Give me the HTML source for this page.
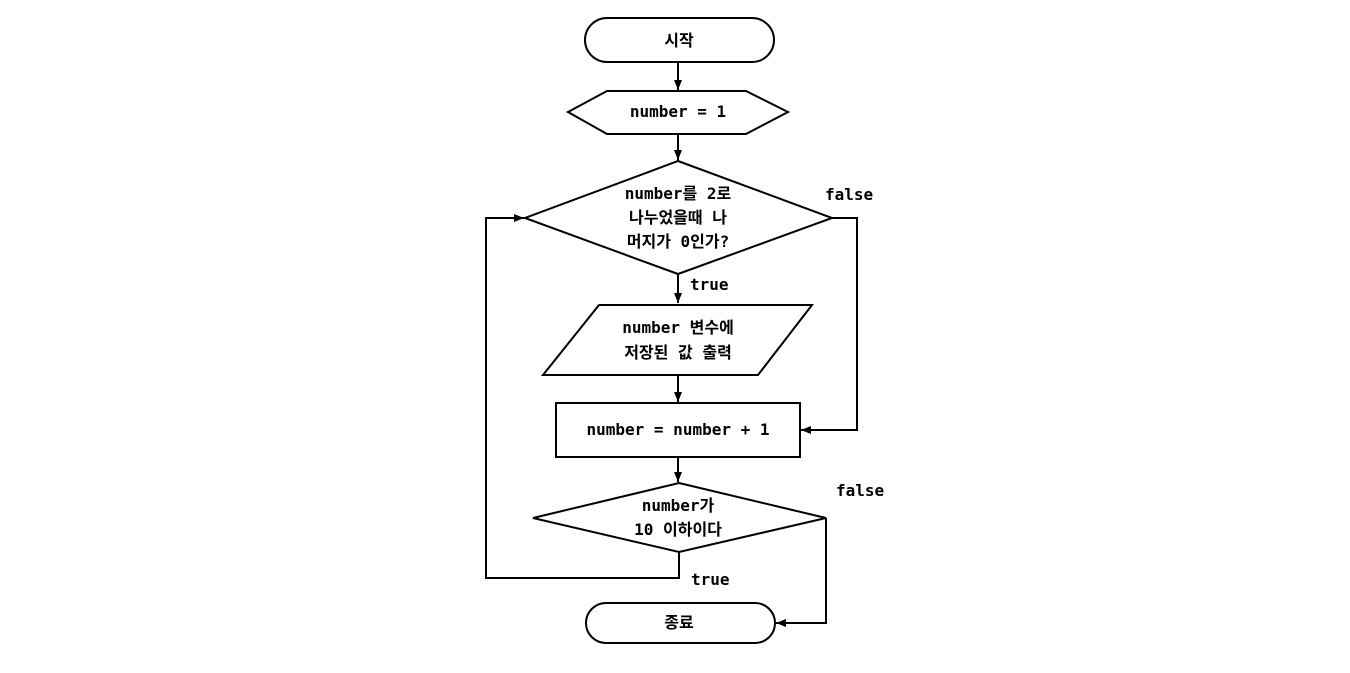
<!DOCTYPE html>
<html><head><meta charset="utf-8"><style>
html,body{margin:0;padding:0;background:#fff;}
svg text{font-family:"DejaVu Sans Mono","Liberation Mono","Noto Sans CJK KR",monospace;font-weight:bold;font-size:16px;fill:#000;}
</style></head><body>
<svg width="1350" height="668" viewBox="0 0 1350 668" xmlns="http://www.w3.org/2000/svg">
<defs><marker id="a" markerWidth="10" markerHeight="8" refX="10" refY="4" orient="auto" markerUnits="userSpaceOnUse"><path d="M0,0 L10,4 L0,8 z" fill="#000"/></marker></defs>
<g fill="none" stroke="#000" stroke-width="2">
<rect x="585" y="18" width="189" height="44" rx="22"/>
<polygon points="568,112 607,91 746,91 788,112 746,134 607,134"/>
<polygon points="678,161 832,218 678,274 525,218"/>
<polygon points="599,305 812,305 758,375 543,375"/>
<rect x="556" y="403" width="244" height="54"/>
<polygon points="679,483 826,518 679,552 533,518"/>
<rect x="586" y="603" width="189" height="40" rx="20"/>
<line x1="678" y1="62" x2="678" y2="90" marker-end="url(#a)"/>
<line x1="678" y1="134" x2="678" y2="160" marker-end="url(#a)"/>
<line x1="678" y1="274" x2="678" y2="303" marker-end="url(#a)"/>
<line x1="678" y1="375" x2="678" y2="402" marker-end="url(#a)"/>
<line x1="678" y1="457" x2="678" y2="482" marker-end="url(#a)"/>
<polyline points="679,552 679,578 486,578 486,218 524,218" marker-end="url(#a)"/>
<polyline points="832,218 857,218 857,430 801,430" marker-end="url(#a)"/>
<polyline points="826,518 826,623 776,623" marker-end="url(#a)"/>
</g>
<g text-anchor="middle">
<text x="679" y="46">시작</text>
<text x="678" y="117">number = 1</text>
<text x="678" y="199">number를 2로</text>
<text x="678" y="223">나누었을때 나</text>
<text x="678" y="247">머지가 0인가?</text>
<text x="678" y="333">number 변수에</text>
<text x="678" y="358">저장된 값 출력</text>
<text x="678" y="435">number = number + 1</text>
<text x="678" y="511">number가</text>
<text x="678" y="535">10 이하이다</text>
<text x="679" y="628">종료</text>
</g>
<text x="825" y="200">false</text>
<text x="690" y="290">true</text>
<text x="836" y="496">false</text>
<text x="691" y="585">true</text>
</svg>
</body></html>
